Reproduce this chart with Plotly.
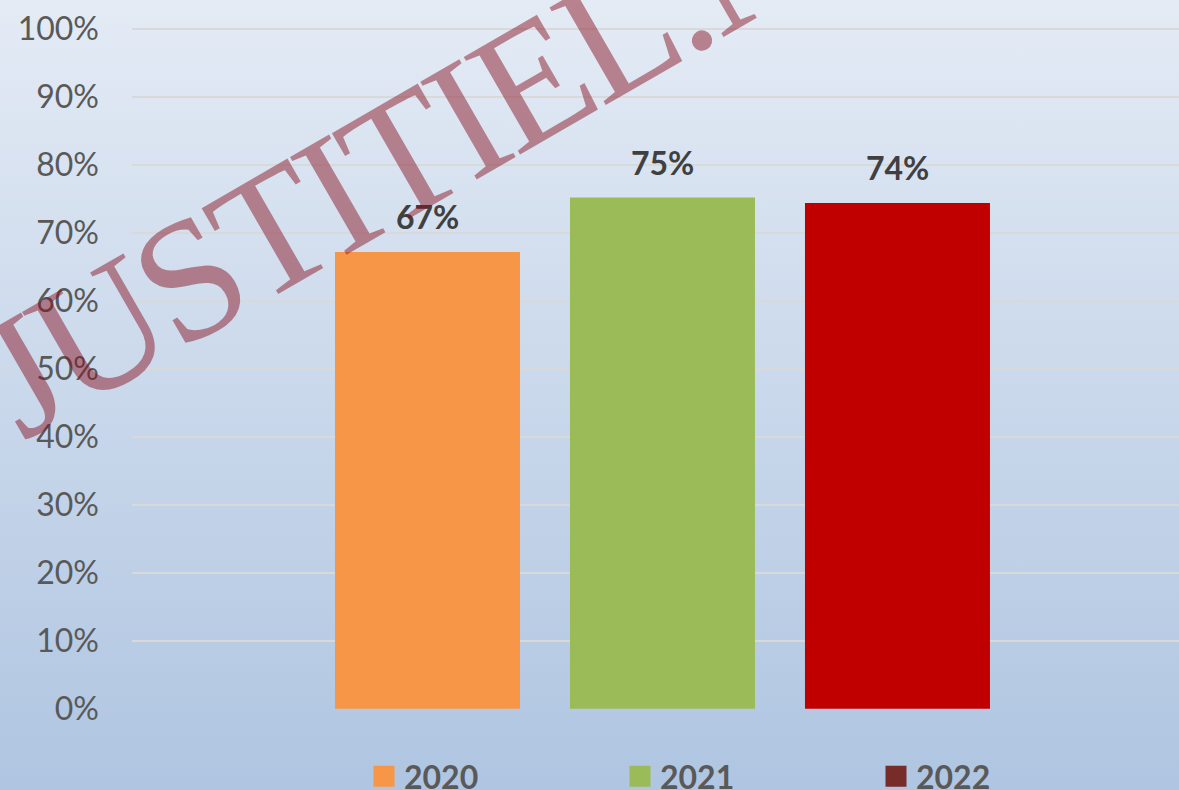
import base64
import plotly.graph_objects as go

# ---- data ----
years = ['2020', '2021', '2022']
values = [0.672, 0.752, 0.744]
bar_colors = ['#F79646', '#9BBB59', '#C00000']
legend_colors = ['#F79646', '#9BBB59', '#772C2A']
y_ticks = [0, 0.1, 0.2, 0.3, 0.4, 0.5, 0.6, 0.7, 0.8, 0.9, 1.0]
watermark = 'JUSTITIEL.NL'

# ---- layout geometry ----
W, H = 1179, 790
ML, MT, MR, MB = 132, 28, 0, 81
PW, PH = W - ML - MR, H - MT - MB

svg = ('<svg xmlns="http://www.w3.org/2000/svg" width="100" height="100" preserveAspectRatio="none">'
       '<defs><linearGradient id="g" x1="0" y1="0" x2="0" y2="1">'
       '<stop offset="0" stop-color="#E4EBF5"/><stop offset="1" stop-color="#AFC5E1"/>'
       '</linearGradient></defs><rect width="100" height="100" fill="url(#g)"/></svg>')
bg_src = 'data:image/svg+xml;base64,' + base64.b64encode(svg.encode()).decode()

fig = go.Figure()
for yr, v, c in zip(years, values, bar_colors):
    fig.add_trace(go.Bar(x=[yr], y=[v], marker=dict(color=c, line=dict(width=0)),
                         showlegend=False, hoverinfo='skip'))
for yr, c in zip(years, legend_colors):
    fig.add_trace(go.Scatter(x=[None], y=[None], mode='markers', name=yr,
                             marker=dict(symbol='square', size=16, color=c,
                                         line=dict(color=c, width=5))))

for i, v in enumerate(values):
    fig.add_annotation(x=i, y=v, xref='x', yref='y', text=f'{v:.0%}', showarrow=False,
                       yanchor='bottom', yshift=14,
                       font=dict(family='Lato', size=32, color='#404040', weight='bold'))

fig.add_annotation(xref='paper', yref='paper', x=(436 - ML) / PW, y=(H - MB - 136) / PH,
                   text=f'<span style="letter-spacing:-6px">{watermark}</span>',
                   showarrow=False, textangle=-30,
                   xanchor='center', yanchor='middle',
                   font=dict(family='Liberation Serif', size=172, color='rgba(134,12,28,0.47)'))

fig.add_layout_image(source=bg_src, xref='paper', yref='paper',
                     x=-ML / PW, y=1 + MT / PH, sizex=W / PW, sizey=H / PH,
                     xanchor='left', yanchor='top', sizing='stretch', layer='below')

fig.update_layout(
    width=W, height=H,
    margin=dict(l=ML, r=MR, t=MT, b=MB, autoexpand=False),
    paper_bgcolor='#C9D7EB', plot_bgcolor='rgba(0,0,0,0)',
    barmode='overlay', bargap=0.2128,
    showlegend=True,
    legend=dict(orientation='h', x=(364 - ML) / PW, xanchor='left',
                y=-(749 - (H - MB)) / PH, yanchor='top',
                entrywidth=211, bgcolor='rgba(0,0,0,0)',
                font=dict(family='Lato', size=32, color='#595959', weight='bold')),
    xaxis=dict(type='category', categoryorder='array', categoryarray=years,
               range=[-1.2574, 3.198], showticklabels=False, showgrid=False,
               zeroline=False, showline=False, ticks=''),
    yaxis=dict(range=[-0.0005, 1.0015], tickvals=y_ticks, tickformat='.0%', showgrid=True,
               gridcolor='#D9D9D9', gridwidth=1.5, zeroline=False, showline=False,
               ticks='', ticklabelstandoff=32,
               tickfont=dict(family='Lato', size=32, color='#595959')),
)

fig.write_html('out.html', config={'displayModeBar': False},
               post_script="document.body.style.margin='0';document.body.style.overflow='hidden';")
